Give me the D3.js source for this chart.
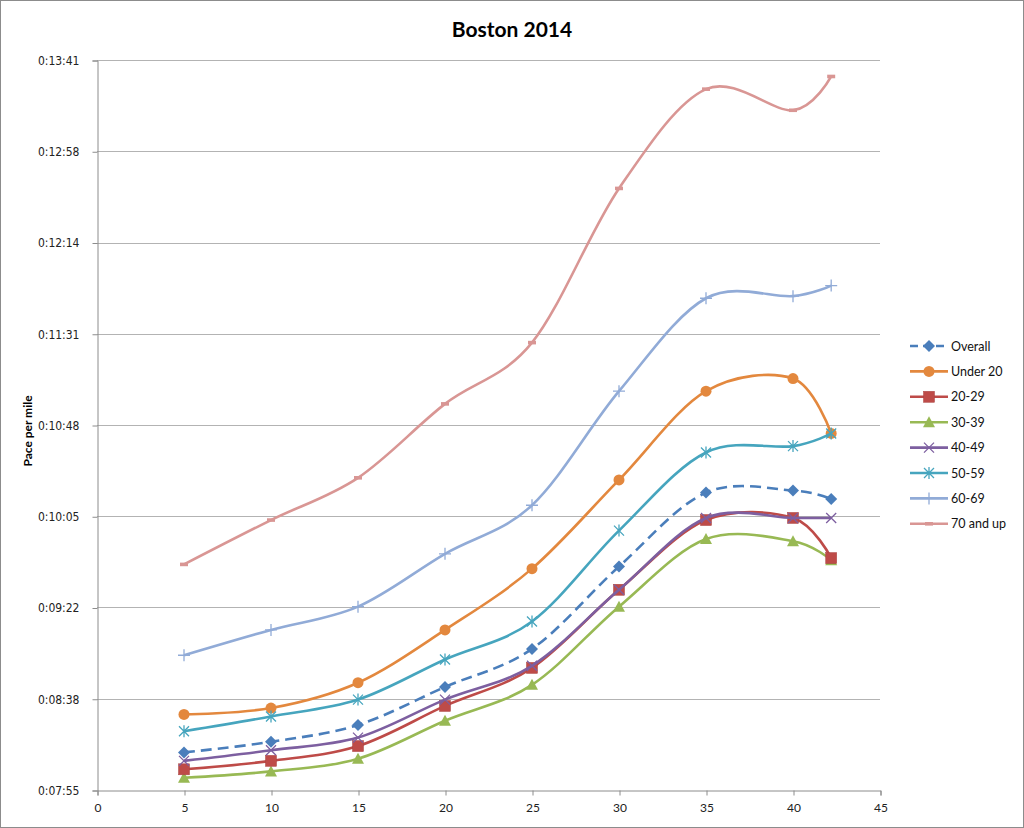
<!DOCTYPE html>
<html><head><meta charset="utf-8">
<script src="https://cdn.jsdelivr.net/npm/d3@7"></script>
<style>body{margin:0;background:#fff}svg{display:block}text{font-family:Lato,"Open Sans",sans-serif}</style>
</head><body><svg id="c" width="1024" height="828"></svg>
<script>
const title = "Boston 2014";
const yLabel = "Pace per mile";
const distances = [5, 10, 15, 20, 25, 30, 35, 40, 42.195];
const xTicks = [0, 5, 10, 15, 20, 25, 30, 35, 40, 45];
// y ticks in seconds (Excel steps of 0.0005 day = 43.2 s)
const yTicks = [475.2, 518.4, 561.6, 604.8, 648, 691.2, 734.4, 777.6, 820.8];
const seriesNames = ["Overall", "Under 20", "20-29", "30-39", "40-49", "50-59", "60-69", "70 and up"];
// pace per mile, seconds
const overall  = [493, 498, 506, 524, 542, 581, 616, 617, 613];
const under20  = [511, 514, 526, 551, 580, 622, 664, 670, 644];
const age20_29 = [485, 489, 496, 515, 533, 570, 603, 604, 585];
const age30_39 = [481, 484, 490, 508, 525, 562, 594, 593, 584];
const age40_49 = [489, 494, 500, 518, 534, 570, 604, 604, 604];
const age50_59 = [503, 510, 518, 537, 555, 598, 635, 638, 644];
const age60_69 = [539, 551, 562, 587, 610, 664, 708, 709, 714];
const age70up  = [582, 603, 623, 658, 687, 760, 807, 797, 813];
const seriesValues = [overall, under20, age20_29, age30_39, age40_49, age50_59, age60_69, age70up];
const colors = ["#4A7EBB", "#E3883E", "#BE4B48", "#98B954", "#7D5FA0", "#46A5BE", "#91ABD7", "#D99694"];
const markers = ["diamond", "circle", "square", "triangle", "x", "asterisk", "plus", "dash"];

const svg = d3.select("#c");
svg.append("rect").attr("x", 0.5).attr("y", 0.5).attr("width", 1023).attr("height", 827)
  .attr("fill", "#fff").attr("stroke", "#8c8c8c");

const x = d3.scaleLinear().domain([0, 45]).range([97, 880]);
const y = d3.scaleLinear().domain([475.2, 820.8]).range([790, 60]);

function fmt(s) {
  const r = Math.round(s);
  const m = Math.floor(r / 60), sec = r % 60;
  return "0:" + String(m).padStart(2, "0") + ":" + String(sec).padStart(2, "0");
}

// gridlines
svg.append("g").selectAll("line").data(yTicks.slice(1)).join("line")
  .attr("x1", 97).attr("x2", 880).attr("y1", d => Math.round(y(d)) + 0.5).attr("y2", d => Math.round(y(d)) + 0.5)
  .attr("stroke", "#b3b3b3").attr("stroke-width", 1);

// y axis
const yAxis = svg.append("g").attr("transform", "translate(97.5,0.5)")
  .call(d3.axisLeft(y).tickValues(yTicks).tickFormat(fmt).tickSize(5).tickPadding(13));
yAxis.select(".domain").attr("stroke", "#8c8c8c");
yAxis.selectAll(".tick line").attr("stroke", "#8c8c8c");
yAxis.selectAll("text").attr("fill", "#222").style("font-family", "'DejaVu Sans Condensed', 'Open Sans', sans-serif").style("font-size", "12px");

// x axis
const xAxis = svg.append("g").attr("transform", "translate(0.5,790.5)")
  .call(d3.axisBottom(x).tickValues(xTicks).tickSize(5).tickPadding(8));
xAxis.select(".domain").attr("stroke", "#8c8c8c");
xAxis.selectAll(".tick line").attr("stroke", "#8c8c8c");
xAxis.selectAll("text").attr("font-size", 12).attr("fill", "#222");

// title
svg.append("text").attr("x", 512).attr("y", 37).attr("text-anchor", "middle")
  .attr("font-size", 21).attr("font-weight", "bold").attr("fill", "#000").text(title);
// y label
svg.append("text").attr("transform", "translate(32,431) rotate(-90)").attr("text-anchor", "middle")
  .attr("font-size", 12).attr("font-weight", "bold").attr("fill", "#000").text(yLabel);

function drawMarker(g, type, color) {
  switch (type) {
    case "diamond": g.append("path").attr("d", "M0,-6L6,0L0,6L-6,0Z").attr("fill", color); break;
    case "circle": g.append("circle").attr("r", 5.5).attr("fill", color); break;
    case "square": g.append("rect").attr("x", -5.5).attr("y", -5.5).attr("width", 11).attr("height", 11).attr("fill", color).attr("stroke", "#a94340").attr("stroke-width", 0.5); break;
    case "triangle": g.append("path").attr("d", "M0,-6L6,5L-6,5Z").attr("fill", color); break;
    case "x": g.append("path").attr("d", "M-5,-5L5,5M-5,5L5,-5").attr("stroke", color).attr("stroke-width", 1.3).attr("fill", "none"); break;
    case "asterisk": g.append("path").attr("d", "M-5,-5L5,5M-5,5L5,-5M0,-6L0,6").attr("stroke", color).attr("stroke-width", 1.3).attr("fill", "none"); break;
    case "plus": g.append("path").attr("d", "M-6,0L6,0M0,-6L0,6").attr("stroke", color).attr("stroke-width", 1.3).attr("fill", "none"); break;
    case "dash": g.append("rect").attr("x", -4).attr("y", -1.8).attr("width", 8).attr("height", 3.6).attr("fill", color); break;
  }
}

const line = d3.line().x(d => x(d[0])).y(d => y(d[1])).curve(d3.curveCardinal.tension(0));

const drawOrder = [7, 6, 1, 5, 0, 3, 2, 4];
drawOrder.forEach(i => {
  const pts = distances.map((d, j) => [d, seriesValues[i][j]]);
  const g = svg.append("g");
  g.append("path").datum(pts).attr("d", line).attr("fill", "none")
    .attr("stroke", colors[i]).attr("stroke-width", 2.6).attr("stroke-linejoin", "round")
    .attr("stroke-dasharray", i === 0 ? "11,6" : null);
  pts.forEach(p => {
    const mg = g.append("g").attr("transform", `translate(${x(p[0])},${y(p[1])})`);
    drawMarker(mg, markers[i], colors[i]);
  });
});

// legend
const legend = svg.append("g");
seriesNames.forEach((name, i) => {
  const ly = 346 + i * 25.4;
  const lg = legend.append("g").attr("transform", `translate(0,${ly})`);
  lg.append("line").attr("x1", 910).attr("x2", 948).attr("y1", 0).attr("y2", 0)
    .attr("stroke", colors[i]).attr("stroke-width", 2.6).attr("stroke-dasharray", i === 0 ? "8,5" : null);
  const mg = lg.append("g").attr("transform", "translate(929,0)");
  drawMarker(mg, markers[i], colors[i]);
  lg.append("text").attr("x", 951).attr("y", 4.5).attr("font-size", 12.5).attr("fill", "#111").text(name);
});
</script></body></html>
